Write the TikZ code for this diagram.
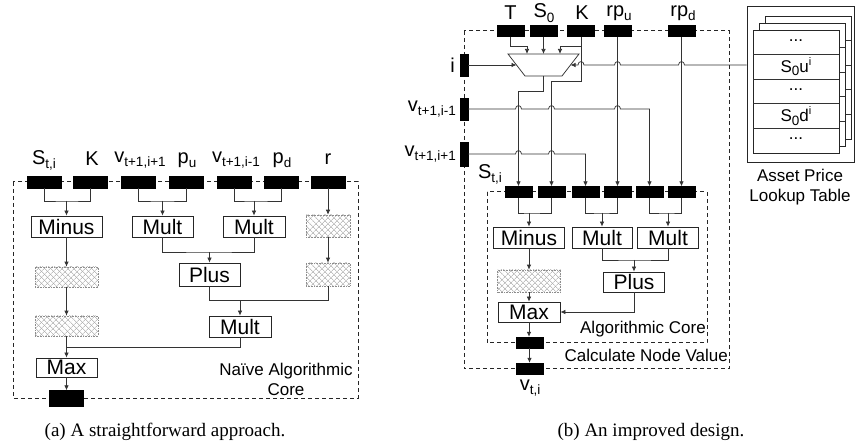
\documentclass[tikz,border=0pt]{standalone}
\usepackage{fontspec}
\setmainfont{Liberation Sans}
\newfontfamily\capfont{Liberation Serif}
\usetikzlibrary{arrows.meta,patterns.meta,calc}
\newcommand{\lsub}[1]{\raisebox{-0.4ex}{\fontsize{13.5}{13.5}\selectfont #1}}
\newcommand{\lsup}[1]{\raisebox{0.75ex}{\fontsize{11}{11}\selectfont #1}}
\begin{document}
\begin{tikzpicture}[x=1pt,y=-1pt,
  wire/.style={draw=black!80, line width=0.75pt},
  arr/.style={wire,-{Latex[length=5pt,width=4.5pt]}},
  dbox/.style={draw=black!85, line width=1pt, dash pattern=on 4pt off 3pt},
  aport/.style={draw=black, fill=black, minimum width=34pt, minimum height=12pt, inner sep=0pt},
  bport/.style={draw=black, fill=black, minimum width=27pt, minimum height=11pt, inner sep=0pt},
  vport/.style={draw=black, fill=black, minimum width=8pt, minimum height=22pt, inner sep=0pt},
  op/.style={draw=black!85, fill=white, line width=0.75pt, inner sep=0pt, minimum height=21pt, font=\fontsize{21}{22}\selectfont},
  hat/.style={draw=black!45, densely dotted, line width=0.6pt, inner sep=0pt,
    pattern={Lines[angle=45,distance=4pt,line width=0.5pt]}, pattern color=black!38,
    postaction={pattern={Lines[angle=-45,distance=4pt,line width=0.5pt]}, pattern color=black!38}},
  lbl/.style={inner sep=0pt, font=\fontsize{20}{22}\selectfont},
  note/.style={inner sep=0pt, font=\fontsize{17}{20}\selectfont, align=center},
  captxt/.style={inner sep=0pt, font=\capfont\fontsize{19}{20}\selectfont}
]
\useasboundingbox (0,0) rectangle (857,446);

%%%%%%%%%%%%%%%% (a) %%%%%%%%%%%%%%%%
\draw[dbox] (13,182) rectangle (358,398);
\node[aport] (aS) at (44,182) {};
\node[aport] (aK) at (90.5,182) {};
\node[aport] (aV1) at (138.5,182) {};
\node[aport] (aPu) at (186,182) {};
\node[aport] (aV2) at (234,182) {};
\node[aport] (aPd) at (281,182) {};
\node[aport] (aR) at (328,182) {};
\node[aport, minimum height=16pt] (aOut) at (66.5,398.5) {};

\node[lbl] (laS) at (44,160) {S\lsub{t,i}};
\node[lbl] (laK) at (92,159) {K};
\node[lbl] (laV1) at (140,160) {v\lsub{t+1,i+1}};
\node[lbl] (laPu) at (187,160) {p\lsub{u}};
\node[lbl] (laV2) at (236,160) {v\lsub{t+1,i-1}};
\node[lbl] (laPd) at (282,160) {p\lsub{d}};
\node[lbl] (laR) at (328,159) {r};

\node[op, minimum width=71pt] (aMinus) at (66.5,226.5) {Minus};
\node[op, minimum width=61pt] (aMult1) at (162.5,226.5) {Mult};
\node[op, minimum width=62pt] (aMult2) at (254,226.5) {Mult};
\node[hat, minimum width=44pt, minimum height=22pt] (aH1) at (328,226) {};
\node[hat, minimum width=44pt, minimum height=23pt] (aH2) at (328,274.5) {};
\node[hat, minimum width=63pt, minimum height=20pt] (aL1) at (66.5,277) {};
\node[hat, minimum width=63pt, minimum height=20pt] (aL2) at (66.5,326) {};
\node[op, minimum width=61pt, minimum height=23pt] (aPlus) at (209.5,274.5) {Plus};
\node[op, minimum width=62pt] (aMult3) at (240,326.5) {Mult};
\node[op, minimum width=61pt, minimum height=19pt] (aMax) at (66.5,367.5) {Max};

\coordinate (aj1) at (66.5,201);
\draw[wire] (aS.south) |- (aj1) -| (aK.south);
\draw[arr] (aj1) -- (aMinus.north);
\coordinate (aj2) at (162.5,201);
\draw[wire] (aV1.south) |- (aj2) -| (aPu.south);
\draw[arr] (aj2) -- (aMult1.north);
\coordinate (aj3) at (254,201);
\draw[wire] (aV2.south) |- (aj3) -| (aPd.south);
\draw[arr] (aj3) -- (aMult2.north);
\draw[arr] (aR.south) -- (aH1.north);
\draw[arr] (aH1.south) -- (aH2.north);
\draw[arr] (aMinus.south) -- (aL1.north);
\draw[arr] (aL1.south) -- (aL2.north);
\coordinate (aj4) at (209.5,252);
\draw[wire] (aMult1.south) |- (aj4) -| (aMult2.south);
\draw[arr] (aj4) -- (aPlus.north);
\coordinate (aj5) at (240,300.5);
\draw[wire] (aPlus.south) |- (aj5) -| (aH2.south);
\draw[arr] (aj5) -- (aMult3.north);
\coordinate (aj6) at (66.5,347);
\draw[wire] (aMult3.south) |- (aj6);
\draw[arr] (aL2.south) -- (aMax.north);
\draw[arr] (aMax.south) -- (aOut.north);

\node[note] (aCore) at (286,379) {Naïve Algorithmic\\Core};

%%%%%%%%%%%%%%%% (b) %%%%%%%%%%%%%%%%
\draw[dbox] (464,31) rectangle (729,369);
\draw[dbox] (487,192) rectangle (707,343);

\node[bport] (bT) at (510.5,31) {};
\node[bport] (bS0) at (543.5,31) {};
\node[bport] (bK) at (581,31) {};
\node[bport] (bRu) at (617.5,31) {};
\node[bport] (bRd) at (681.5,31) {};
\node[vport] (bi) at (464,65) {};
\node[vport] (bvm) at (464,109) {};
\node[vport, minimum height=24pt] (bvp) at (464,154) {};

\node[lbl] (lbT) at (510.5,13) {T};
\node[lbl] (lbS0) at (544,13) {S\lsub{0}};
\node[lbl] (lbK) at (582,13) {K};
\node[lbl] (lbRu) at (619,13) {rp\lsub{u}};
\node[lbl] (lbRd) at (683,13) {rp\lsub{d}};
\node[lbl, anchor=east] (lbi) at (455,65) {i};
\node[lbl, anchor=east] (lbvm) at (456,109) {v\lsub{t+1,i-1}};
\node[lbl, anchor=east] (lbvp) at (456,154) {v\lsub{t+1,i+1}};
\node[lbl] (lbS) at (490,174) {S\lsub{t,i}};

\node[bport] (c1) at (518.5,192) {};
\node[bport] (c2) at (551.5,192) {};
\node[bport] (c3) at (585.5,192) {};
\node[bport] (c4) at (617.5,192) {};
\node[bport] (c5) at (649.5,192) {};
\node[bport] (c6) at (681.5,192) {};

% multiplexer
\draw[wire, fill=white] (508,54) -- (579,54) -- (562,76) -- (525,76) -- cycle;
\coordinate (mxTa) at (527,54);
\coordinate (mxTb) at (543.5,54);
\coordinate (mxTc) at (560,54);
\coordinate (mxL) at (516.5,65);
\coordinate (mxR) at (570.5,65);
\coordinate (mxB) at (543.5,76);

% lookup table
\node[draw=black!85, line width=0.75pt, minimum width=107pt, minimum height=156pt, inner sep=0pt] (tbl) at (800.5,84) {};
\foreach \dx/\dy in {12/-14, 6/-7, 0/0} {
  \filldraw[fill=white, draw=black!85, line width=0.75pt] (753+\dx,30+\dy) rectangle (839+\dx,153+\dy);
  \foreach \k in {1,...,4}
    \draw[wire] (753+\dx,30+\dy+24.6*\k) -- (839+\dx,30+\dy+24.6*\k);
}
\node[note] (r1) at (796,41) {...};
\node[note] (r2) at (796,66.9) {S\lsub{0}u\lsup{i}};
\node[note] (r3) at (796,90) {...};
\node[note] (r4) at (796,116.1) {S\lsub{0}d\lsup{i}};
\node[note] (r5) at (796,139) {...};
\node[note] (tblcap) at (800,187) {Asset Price\\Lookup Table};

% connectors (b)
\coordinate (tj) at (527,46);
\draw[arr] (bT.south) |- (tj) -- (mxTa);
\draw[arr] (bS0.south) -- (mxTb);
\coordinate (kj) at (560,46);
\draw[arr] (bK.south) |- (kj) -- (mxTc);
\coordinate (kd) at (581,81);
\draw[arr] (bK.south) -- (kd) -| (c2.north);
\coordinate (md) at (543.5,91.5);
\draw[arr] (mxB) -- (md) -| (c1.north);
\draw[arr] (bi.east) -- (mxL);
\draw[arr] (tbl.west |- mxR) -- (684.5,65) .. controls (684.5,60.5) and (678.5,60.5) .. (678.5,65)
   -- (620.5,65) .. controls (620.5,60.5) and (614.5,60.5) .. (614.5,65)
   -- (584,65) .. controls (584,60.5) and (578,60.5) .. (578,65) -- (mxR);
\draw[arr] (bvm.east) -- (515.5,109) .. controls (515.5,104.5) and (521.5,104.5) .. (521.5,109)
   -- (548.5,109) .. controls (548.5,104.5) and (554.5,104.5) .. (554.5,109)
   -- (614.5,109) .. controls (614.5,104.5) and (620.5,104.5) .. (620.5,109) -| (c5.north);
\draw[arr] (bvp.east) -- (515.5,154) .. controls (515.5,149.5) and (521.5,149.5) .. (521.5,154)
   -- (548.5,154) .. controls (548.5,149.5) and (554.5,149.5) .. (554.5,154) -| (c3.north);
\draw[arr] (bRu.south) -- (c4.north);
\draw[arr] (bRd.south) -- (c6.north);

% algorithmic core (b)
\node[op, minimum width=71pt] (bMinus) at (529,237.5) {Minus};
\node[op, minimum width=60pt] (bMult1) at (602,237.5) {Mult};
\node[op, minimum width=61pt] (bMult2) at (668,237.5) {Mult};
\node[op, minimum width=61pt, minimum height=20pt] (bPlus) at (634,282) {Plus};
\node[hat, minimum width=63pt, minimum height=22pt] (bH) at (529,281) {};
\node[op, minimum width=62pt, minimum height=20pt] (bMax) at (529,312) {Max};
\node[bport] (cOut1) at (529.5,342.5) {};
\node[bport] (cOut2) at (529.5,368.5) {};

\coordinate (bj1) at (529,213);
\draw[wire] (c1.south) |- (bj1) -| (c2.south);
\draw[arr] (bj1) -- (bMinus.north);
\coordinate (bj2) at (602,213);
\draw[wire] (c3.south) |- (bj2) -| (c4.south);
\draw[arr] (bj2) -- (bMult1.north);
\coordinate (bj3) at (668,213);
\draw[wire] (c5.south) |- (bj3) -| (c6.south);
\draw[arr] (bj3) -- (bMult2.north);
\coordinate (bj4) at (634,260);
\draw[wire] (bMult1.south) |- (bj4) -| (bMult2.south);
\draw[arr] (bj4) -- (bPlus.north);
\draw[arr] (bPlus.south) |- (bMax.east);
\draw[arr] (bMinus.south) -- (bH.north);
\draw[arr] (bH.south) -- (bMax.north);
\draw[arr] (bMax.south) -- (bMax.south |- cOut1.north);
\draw[arr] (cOut1.south) -- (cOut2.north);

\node[note, anchor=east] (algc) at (706,329) {Algorithmic Core};
\node[note, anchor=east] (cnv) at (728,355) {Calculate Node Value};
\node[lbl] (lvti) at (530,388) {v\lsub{t,i}};

% captions
\node[captxt] (capa) at (165,432) {(a) A straightforward approach.};
\node[captxt] (capb) at (651,432) {(b) An improved design.};
\end{tikzpicture}
\end{document}
